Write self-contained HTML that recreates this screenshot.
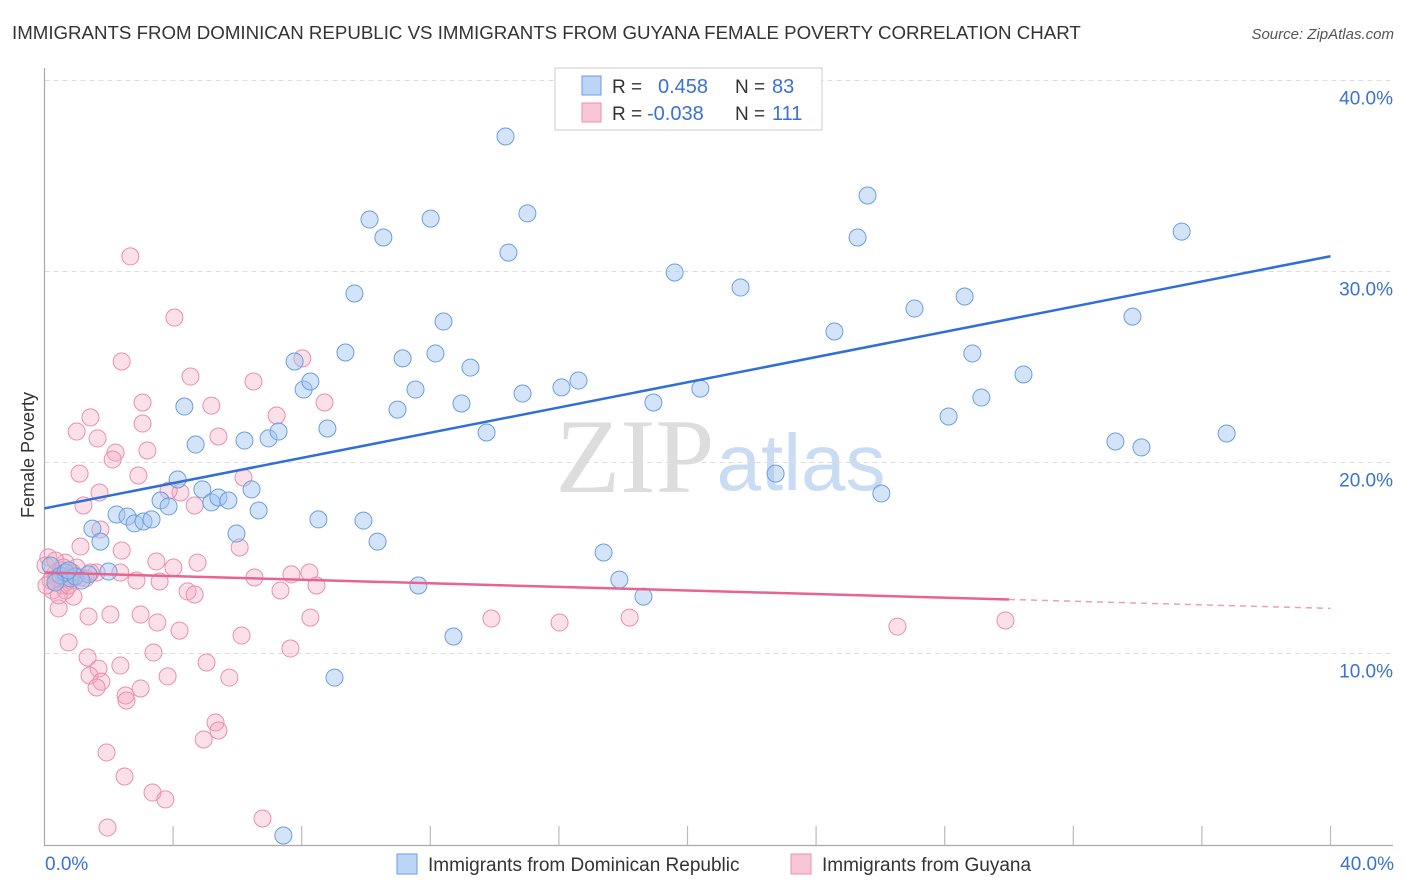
<!DOCTYPE html>
<html><head><meta charset="utf-8"><style>
body{margin:0;background:#fff;font-family:"Liberation Sans",sans-serif;}
svg{display:block}
</style></head><body>
<svg id="chart" width="1406" height="892">
<text x="12" y="39" font-size="18.7" fill="#333">IMMIGRANTS FROM DOMINICAN REPUBLIC VS IMMIGRANTS FROM GUYANA FEMALE POVERTY CORRELATION CHART</text>
<text x="1394" y="39" font-size="15" fill="#555" font-style="italic" text-anchor="end">Source: ZipAtlas.com</text>
<text x="34" y="455" font-size="18" fill="#333" transform="rotate(-90 34 455)" text-anchor="middle">Female Poverty</text>
<g>
<text x="635" y="492" font-size="106" fill="#ddd" font-family="Liberation Serif,serif" text-anchor="middle">ZIP</text>
<text x="801" y="490" font-size="80" fill="#c9dcf3" text-anchor="middle">atlas</text>
</g>
<g id="grid"></g><g id="axes"></g><g id="pts"></g><g id="trend"></g>
<g>
<rect x="555" y="68" width="267" height="62" fill="#fff" stroke="#ccc"/>
<rect x="582" y="76" width="19" height="19" fill="#bcd4f5" stroke="#6a9ee0"/>
<rect x="582" y="103" width="19" height="19" fill="#f8c6d6" stroke="#e890ae"/>
<text x="612" y="93" font-size="19" fill="#333">R = </text><text x="658" y="93" font-size="20" fill="#3a72d0">0.458</text>
<text x="735" y="93" font-size="19" fill="#333">N = </text><text x="772" y="93" font-size="20" fill="#3a72d0">83</text>
<text x="612" y="120" font-size="19" fill="#333">R = </text><text x="647" y="120" font-size="20" fill="#3a72d0">-0.038</text>
<text x="735" y="120" font-size="19" fill="#333">N = </text><text x="772" y="120" font-size="20" fill="#3a72d0">111</text>
</g>
<g>
<rect x="397" y="854" width="20" height="20" fill="#bcd4f5" stroke="#6a9ee0"/>
<text x="428" y="871" font-size="19" fill="#333">Immigrants from Dominican Republic</text>
<rect x="791" y="854" width="20" height="20" fill="#f8c6d6" stroke="#e890ae"/>
<text x="822" y="871" font-size="19" fill="#333">Immigrants from Guyana</text>
</g>
<text x="45" y="870" font-size="19" fill="#3a72d0">0.0%</text>
<text x="1394" y="870" font-size="19" fill="#3a72d0" text-anchor="end">40.0%</text>
</svg>
<script>
const yTicks=[10,20,30,40];
const yTickLabels=["10.0%","20.0%","30.0%","40.0%"];
const xTickVals=[4,8,12,16,20,24,28,32,36,40];
const domX=[0.19,0.5,0.81,0.65,0.96,0.34,0.75,1.37,1.15,1.99,1.49,1.74,2.24,2.58,2.8,3.08,3.33,3.61,3.86,4.14,4.35,4.7,4.91,5.19,5.41,5.72,5.97,6.22,6.44,6.66,6.97,7.28,7.43,7.78,8.06,8.27,8.52,8.8,9.02,9.36,9.64,9.92,10.11,10.36,10.54,10.98,11.14,11.54,11.63,12.01,12.16,12.41,12.72,12.97,13.25,13.75,14.34,14.43,14.87,15.02,16.08,16.61,17.39,17.88,18.63,18.94,19.6,20.4,21.65,22.74,24.57,25.29,25.6,26.03,27.06,28.12,28.62,28.86,29.14,30.45,33.31,33.84,34.12,35.37,36.77];
const domY=[14.61,14.08,13.93,14.24,14.03,13.72,14.35,14.14,13.82,14.29,16.54,15.86,17.28,17.17,16.81,16.91,17.02,18.01,17.7,19.11,22.93,20.94,18.59,17.91,18.17,18.01,16.28,21.15,18.59,17.49,21.26,21.62,0.47,25.29,23.82,24.24,17.02,21.78,8.74,25.76,28.85,16.96,32.72,15.86,31.78,22.77,25.45,23.82,13.56,32.77,25.71,27.38,10.89,23.09,24.97,21.57,37.07,30.99,23.61,33.04,23.93,24.29,15.29,13.87,12.98,23.14,29.95,23.87,29.16,19.42,26.86,31.78,33.98,18.38,28.06,22.41,28.69,25.71,23.4,24.61,21.1,27.64,20.79,32.09,21.52];
const guyX=[2.67,4.04,2.4,4.54,6.5,8.02,5.19,3.05,1.43,7.22,8.71,1.0,1.65,3.05,5.41,2.21,3.2,2.12,1.09,2.92,6.19,1.71,4.23,3.86,1.21,4.67,1.74,1.12,2.4,6.07,3.48,4.76,0.12,0.65,4.01,6.53,7.68,8.24,8.46,1.62,2.36,2.86,3.58,4.45,4.67,7.34,0.9,0.44,1.37,2.05,2.99,3.51,8.27,13.9,16.02,18.2,26.53,29.89,4.2,0.75,3.39,6.13,7.65,1.34,5.04,1.68,2.36,1.4,1.77,3.83,5.75,1.62,2.99,2.52,2.55,5.32,5.41,4.95,1.93,2.49,3.36,3.76,6.78,1.96,0.19,0.34,0.5,0.56,0.65,0.81,0.96,0.25,0.44,0.75,1.12,1.28,1.43,0.03,0.34,0.59,0.87,0.37,0.68,0.06,1.0];
const guyY=[30.79,27.59,25.29,24.5,24.24,25.45,22.98,23.14,22.36,22.46,23.14,21.62,21.26,22.04,21.36,20.52,20.63,20.16,19.42,19.32,19.21,18.43,18.43,18.53,17.75,17.75,16.49,15.6,15.39,15.55,14.82,14.76,15.03,14.76,14.5,13.98,14.14,14.24,13.56,14.24,14.24,13.82,13.77,13.25,13.09,13.3,12.98,12.36,11.94,12.04,12.04,11.62,11.88,11.83,11.62,11.88,11.41,11.73,11.2,10.58,10.05,10.94,10.26,9.79,9.53,9.21,9.37,8.85,8.53,8.8,8.74,8.22,8.17,7.8,7.54,6.39,5.97,5.5,4.82,3.56,2.72,2.36,1.36,0.89,13.82,14.19,14.35,13.56,13.3,13.82,14.08,13.3,13.04,13.56,13.98,13.93,14.24,14.61,14.87,14.5,14.24,13.93,13.93,13.56,14.5];
const domTrend=[17.6,30.8];
const guyTrend=[14.24,12.36];
const guySolidEnd=30;

const NS="http://www.w3.org/2000/svg";
const X=v=>44.5+v*32.15, Y=v=>844.5-v*19.1;
function mk(tag,attrs,parent){const e=document.createElementNS(NS,tag);for(const k in attrs)e.setAttribute(k,attrs[k]);parent.appendChild(e);return e;}
const grid=document.getElementById('grid'),axes=document.getElementById('axes'),pts=document.getElementById('pts'),tr=document.getElementById('trend'),svg=document.getElementById('chart');
yTicks.forEach((t,i)=>{
 const l=mk('line',{x1:44.5,x2:1393,y1:Y(t),y2:Y(t),stroke:'#ddd','stroke-dasharray':'5,4'},grid);
 
 
 const tx=mk('text',{x:1393,y:Y(t)+24,'font-size':19,fill:'#3a72d0','text-anchor':'end'},svg);
 tx.textContent=yTickLabels[i];
 
 
});
const ax=mk('path',{d:`M44.5 68V845.5H1393`,stroke:'#aaa',fill:'none','stroke-width':1.2},axes);


xTickVals.forEach(t=>{
 const l=mk('line',{x1:X(t),x2:X(t),y1:826,y2:845,stroke:'#bbb','stroke-width':1.2},axes);
 
 
});
guyX.forEach((x,i)=>{
 const c=mk('circle',{cx:X(x),cy:Y(guyY[i]),r:8.5,fill:'rgba(245,165,192,0.35)',stroke:'#e88fae','stroke-width':1},pts);
 
 
});
domX.forEach((x,i)=>{
 const c=mk('circle',{cx:X(x),cy:Y(domY[i]),r:8.5,fill:'rgba(160,195,240,0.45)',stroke:'#6a9ee0','stroke-width':1},pts);
 
 
});
const bl=mk('line',{x1:X(0),y1:Y(domTrend[0]),x2:X(40),y2:Y(domTrend[1]),stroke:'#2f6fd6','stroke-width':2.5},tr);


const gm=guyTrend[0]+(guyTrend[1]-guyTrend[0])*guySolidEnd/40;
const pl=mk('line',{x1:X(0),y1:Y(guyTrend[0]),x2:X(guySolidEnd),y2:Y(gm),stroke:'#e8648e','stroke-width':2.5},tr);


const pd=mk('line',{x1:X(guySolidEnd),y1:Y(gm),x2:X(40),y2:Y(guyTrend[1]),stroke:'#e8a0b8','stroke-width':1.5,'stroke-dasharray':'6,5'},tr);


</script>
</body></html>
